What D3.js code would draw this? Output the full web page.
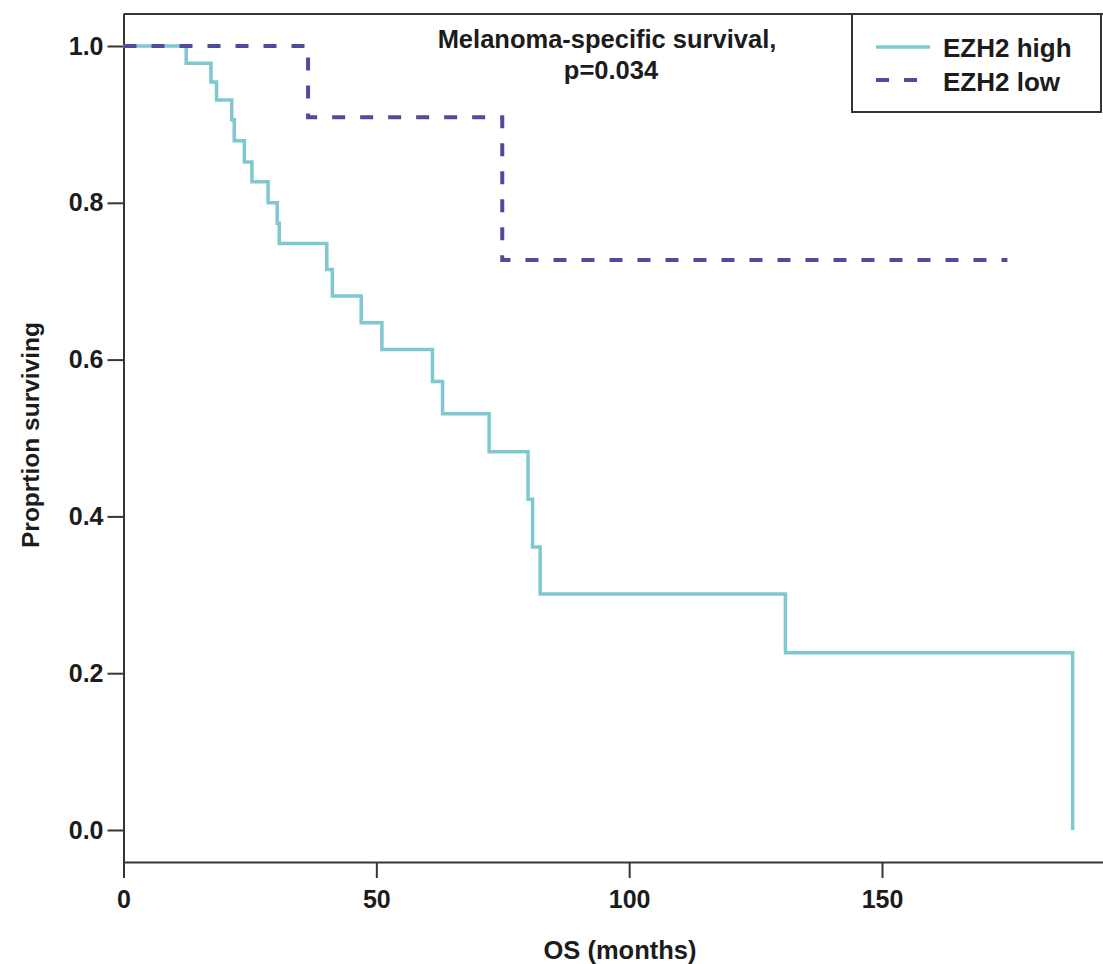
<!DOCTYPE html>
<html>
<head>
<meta charset="utf-8">
<script src="https://cdn.jsdelivr.net/npm/d3@7"></script>
<style>
  html, body { margin: 0; padding: 0; background: #fff; }
  text { font-family: "Liberation Sans", Arial, sans-serif; font-weight: bold; fill: #1c1c1c; }
</style>
</head>
<body>
<svg id="chart" width="1103" height="964"></svg>
<script>
// ---- data ----
const seriesNames = ["EZH2 high", "EZH2 low"];
const highTimes = [0, 12.4, 17.3, 18.4, 21.4, 21.9, 23.9, 25.4, 28.6, 30.4, 30.8, 40.2, 41.3, 47.0, 51.1, 61.1, 63.1, 72.3, 80.0, 80.9, 82.4, 130.9, 187.7];
const highSurv  = [1.0, 0.978, 0.954, 0.931, 0.906, 0.879, 0.852, 0.827, 0.800, 0.774, 0.748, 0.715, 0.681, 0.647, 0.613, 0.572, 0.531, 0.4825, 0.422, 0.361, 0.301, 0.226, 0.0];
const lowTimes = [0, 36.5, 74.9, 174.8];
const lowSurv  = [1.0, 0.909, 0.727, 0.727];
const xTicks = [0, 50, 100, 150];
const yTicks = [0, 0.2, 0.4, 0.6, 0.8, 1.0];
const titleLines = ["Melanoma-specific survival,", "p=0.034"];
const xLabel = "OS (months)";
const yLabel = "Proprtion surviving";

// ---- layout ----
const svg = d3.select("#chart");
const axisColor = "#3a3532";
const highColor = "#80c8d1";
const lowColor = "#4f4b9d";

const pxPerMonth = (882 - 123.5) / 150;
const x = d3.scaleLinear().domain([0, 195]).range([123.5, 123.5 + 195 * pxPerMonth]);
const pxPerUnit = (830 - 46);
const y = d3.scaleLinear().domain([-(862 - 830) / pxPerUnit, 1 + (46 - 14) / pxPerUnit]).range([862, 14]);

// top frame line
svg.append("line")
  .attr("x1", x(0)).attr("x2", 1110)
  .attr("y1", 14).attr("y2", 14)
  .attr("stroke", axisColor).attr("stroke-width", 2);

// y axis
const yAxis = svg.append("g")
  .attr("transform", `translate(${x(0)},0)`)
  .call(d3.axisLeft(y).tickValues(yTicks).tickSize(16).tickSizeOuter(0).tickPadding(4).tickFormat(d3.format(".1f")));
yAxis.select(".domain").attr("stroke", axisColor).attr("stroke-width", 2);
yAxis.selectAll(".tick line").attr("stroke", axisColor).attr("stroke-width", 2);
yAxis.selectAll(".tick text").style("font-size", "25px").attr("fill", "#1c1c1c");

// x axis
const xAxis = svg.append("g")
  .attr("transform", `translate(0,${y.range()[0]})`)
  .call(d3.axisBottom(x).tickValues(xTicks).tickSize(16).tickSizeOuter(0).tickPadding(12).tickFormat(d3.format("d")));
xAxis.select(".domain").attr("stroke", axisColor).attr("stroke-width", 2);
xAxis.selectAll(".tick line").attr("stroke", axisColor).attr("stroke-width", 2);
xAxis.selectAll(".tick text").style("font-size", "25px").attr("fill", "#1c1c1c");

// curves
const line = d3.line().x(d => x(d[0])).y(d => y(d[1])).curve(d3.curveStepAfter);
const highData = highTimes.map((t, i) => [t, highSurv[i]]);
const lowData = lowTimes.map((t, i) => [t, lowSurv[i]]);

svg.append("path").datum(highData)
  .attr("d", line).attr("fill", "none")
  .attr("stroke", highColor).attr("stroke-width", 3.5);

svg.append("path").datum(lowData)
  .attr("d", line).attr("fill", "none")
  .attr("stroke", lowColor).attr("stroke-width", 4)
  .attr("stroke-dasharray", "13,15");

// title
svg.append("text").attr("x", 607).attr("y", 48).attr("text-anchor", "middle")
  .style("font-size", "25.5px").text(titleLines[0]);
svg.append("text").attr("x", 611).attr("y", 79).attr("text-anchor", "middle")
  .style("font-size", "25.5px").text(titleLines[1]);

// legend
svg.append("rect").attr("x", 852).attr("y", 14).attr("width", 249).attr("height", 98)
  .attr("fill", "#fff").attr("stroke", axisColor).attr("stroke-width", 2);
svg.append("line").attr("x1", 876).attr("x2", 930).attr("y1", 47).attr("y2", 47)
  .attr("stroke", highColor).attr("stroke-width", 3.5);
svg.append("line").attr("x1", 876).attr("x2", 918).attr("y1", 80).attr("y2", 80)
  .attr("stroke", lowColor).attr("stroke-width", 4).attr("stroke-dasharray", "13,15");
svg.append("text").attr("x", 943).attr("y", 57).style("font-size", "26px").text(seriesNames[0]);
svg.append("text").attr("x", 943).attr("y", 91).style("font-size", "26px").text(seriesNames[1]);

// axis titles
svg.append("text").attr("x", 620).attr("y", 959).attr("text-anchor", "middle")
  .style("font-size", "25.5px").text(xLabel);
svg.append("text").attr("transform", "translate(39,435) rotate(-90)").attr("text-anchor", "middle")
  .style("font-size", "24.5px").text(yLabel);
</script>
</body>
</html>
